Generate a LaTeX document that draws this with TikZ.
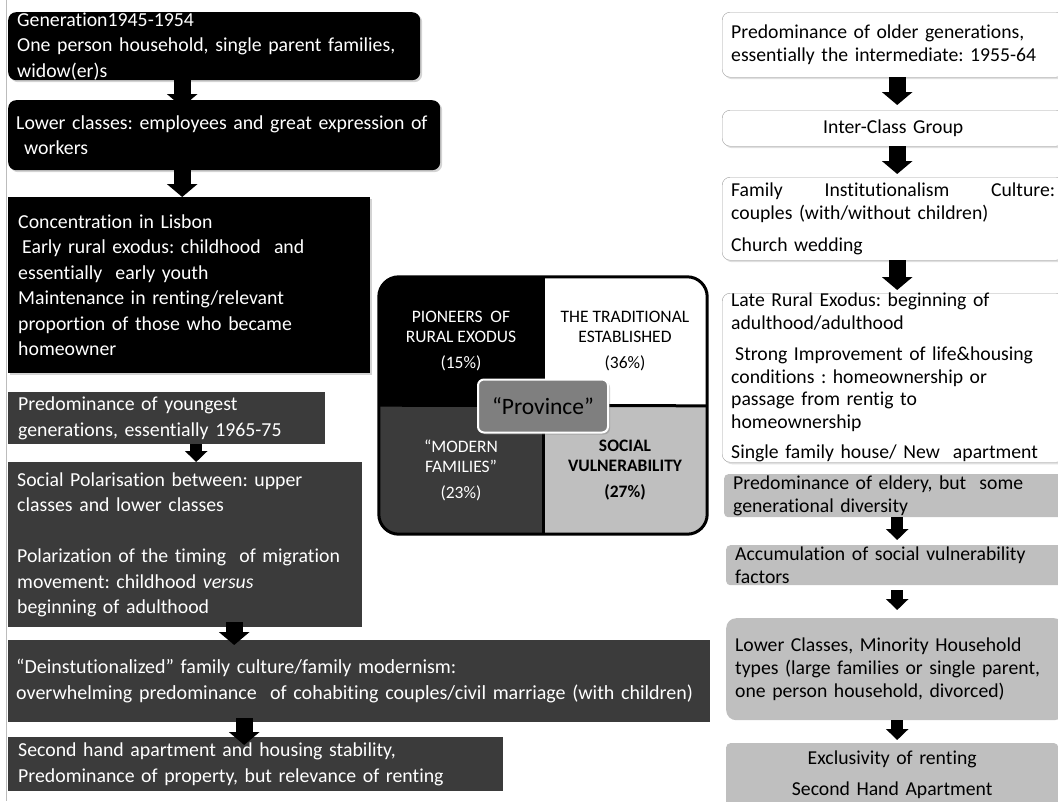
\documentclass[tikz,border=0pt]{standalone}
\usepackage{fontspec}
\setmainfont{Carlito}[Ligatures=NoCommon]
\usepackage{xcolor}
\usetikzlibrary{arrows.meta,shadows}

\definecolor{darkgrey}{HTML}{3B3B3B}
\definecolor{lightgrey}{HTML}{BFBFBF}
\definecolor{midgrey}{HTML}{7F7F7F}
\definecolor{edgegrey}{HTML}{A0A0A0}

\begin{document}
\frenchspacing
\begin{tikzpicture}[x=1pt, y=-1pt,
  leftbox/.style={anchor=north west, inner sep=0pt, align=left, text=white,
    font=\fontsize{19.8}{25.5}\selectfont},
  blackbox/.style={leftbox, fill=black,
    drop shadow={opacity=0.35, shadow xshift=2pt, shadow yshift=-2pt}},
  darkbox/.style={leftbox, fill=darkgrey},
  rightbox/.style={anchor=north west, inner sep=0pt, align=left, text=black,
    minimum width=342pt, text width=324pt, font=\fontsize{19.7}{23}\selectfont},
  whitebox/.style={rightbox, draw=edgegrey, fill=white, rounded corners=8pt,
    drop shadow={opacity=0.25, shadow xshift=2pt, shadow yshift=-2pt}},
  greybox/.style={rightbox, fill=lightgrey, rounded corners=4pt},
  quad/.style={minimum width=164pt, minimum height=128pt, inner sep=0pt,
    align=center, font=\fontsize{17.5}{20}\selectfont},
  flow/.style={draw=black, line width=17pt, -{Triangle[width=30pt,length=13pt]}},
  smallflow/.style={draw=black, line width=12pt, -{Triangle[width=22pt,length=11pt]}}
]
\useasboundingbox (0,0) rectangle (1058,801);
\clip (0,0) rectangle (1058,801);

% frame line on the left
\draw[edgegrey!70, line width=1.2pt] (6.5,0) -- (6.5,801);

% Left column: pioneers / modern families
\node[blackbox, rounded corners=8pt, minimum width=412pt, text width=394pt,
  minimum height=68pt] (gen) at (8,12)
  {Generation1945-1954\\One person household, single parent families,\\widow(er)s};
\node[blackbox, rounded corners=8pt, minimum width=432pt, text width=416pt,
  minimum height=70pt] (lower) at (8,100)
  {Lower classes: employees and great expression of\\\hspace*{8pt}workers};
\node[blackbox, minimum width=362pt, text width=342pt, minimum height=176pt] (lisbon) at (8,197)
  {Concentration in Lisbon\\\hspace*{4pt}Early rural exodus: childhood\ \ and\\essentially\ \ early youth\\
   Maintenance in renting/relevant\\proportion of those who became\\homeowner};

\node[darkbox, minimum width=317pt, text width=297pt, minimum height=52pt] (young) at (8,392)
  {Predominance of youngest\\generations, essentially 1965-75};
\node[darkbox, minimum width=354pt, text width=336pt, minimum height=165pt] (polar) at (8,462)
  {Social Polarisation between: upper\\classes and lower classes\\[25.5pt]
   Polarization of the timing\ \ of migration\\movement: childhood \emph{versus}\\beginning of adulthood};
\node[darkbox, minimum width=702pt, text width=686pt, minimum height=82pt,
  font=\fontsize{20}{26}\selectfont] (deinst) at (8,640)
  {“Deinstutionalized” family culture/family modernism:\\
   overwhelming predominance\ \ of cohabiting couples/civil marriage (with children)};
\node[darkbox, minimum width=495pt, text width=475pt, minimum height=54pt] (second) at (8,737)
  {Second hand apartment and housing stability,\\Predominance of property, but relevance of renting};

% Right column: traditional / social vulnerability
\node[whitebox, minimum height=65pt] (older) at (722,12)
  {Predominance of older generations,\\essentially the intermediate: 1955-64};
\node[whitebox, minimum height=36pt, align=center] (inter) at (722,110) {Inter-Class Group};
\node[whitebox, minimum height=83pt] (famil) at (722,177)
  {Family\hfill Institutionalism\hfill Culture:\\couples (with/without children)\\[9pt]Church wedding};
\node[whitebox, minimum height=169pt, font=\fontsize{19.7}{22.5}\selectfont] (late) at (722,293)
  {Late Rural Exodus: beginning of\\adulthood/adulthood\\[9pt]
   \hspace*{4pt}Strong Improvement of life\&housing\\conditions : homeownership or\\
   passage from rentig to\\homeownership\\[8pt]Single family house/ New\ \ apartment};

\node[greybox, minimum width=340pt, text width=322pt, minimum height=43pt] (eldery) at (724,474)
  {Predominance of eldery, but\ \ some\\generational diversity};
\node[greybox, minimum width=338pt, text width=320pt, minimum height=40pt] (accum) at (726,545)
  {Accumulation of social vulnerability\\factors};
\node[greybox, rounded corners=10pt, minimum width=338pt, text width=320pt,
  minimum height=102pt] (lowcl) at (726,618)
  {Lower Classes, Minority Household\\types (large families or single parent,\\one person household, divorced)};
\node[greybox, minimum width=332pt, text width=314pt, minimum height=64pt, align=center] (excl) at (726,743)
  {Exclusivity of renting\\[8pt]Second Hand Apartment};

% Typology grid
\begin{scope}
  \clip[rounded corners=20pt] (379,277) rectangle (707,535);
  \node[quad, fill=black, text=white] (pion) at (461,341) {PIONEERS\ \ OF\\RURAL EXODUS\\[6pt](15\%)};
  \node[quad, fill=white] (trad) at (625,341) {THE TRADITIONAL\\ESTABLISHED\\[6pt](36\%)};
  \node[quad, fill=darkgrey, text=white] (modern) at (461,470) {“MODERN\\FAMILIES”\\[6pt](23\%)};
  \node[quad, fill=lightgrey, font=\fontsize{17.5}{20}\selectfont\bfseries] (vuln) at (625,470)
    {SOCIAL\\VULNERABILITY\\[6pt](27\%)};
\end{scope}
\draw[line width=3pt, rounded corners=20pt] (pion.north west) rectangle (vuln.south east);
\draw[line width=3pt] (pion.north east) -- (modern.south east);
\draw[line width=3pt] (pion.south west) -- (vuln.north east);

% Center label
\node[
  rounded corners=6pt,
  fill=midgrey,
  draw=white,
  line width=2pt,
  minimum width=130pt,
  minimum height=53pt,
  font=\fontsize{23.5}{26}\selectfont,
  drop shadow={opacity=0.4, shadow xshift=2pt, shadow yshift=-2pt}
] (prov) at (543,406) {“Province”};

% arrows left
\draw[flow] ([xshift=-32pt]gen.south) -- ([xshift=-42pt,yshift=-7pt]lower.north);
\draw[flow] ([xshift=-42pt]lower.south) -- ([xshift=-7pt]lisbon.north);
\draw[smallflow] ([xshift=29.5pt]young.south) -- ([xshift=11pt]polar.north);
\draw[flow] ([xshift=49pt,yshift=5pt]polar.south) -- ([xshift=-125pt,yshift=-5pt]deinst.north);
\draw[flow] ([xshift=-115pt,yshift=4pt]deinst.south) -- ([xshift=-11.5pt,yshift=-8pt]second.north);

% arrows right
\draw[flow] ([xshift=4pt]older.south) -- ([xshift=4pt,yshift=5pt]inter.north);
\draw[flow] ([xshift=4pt]inter.south) -- ([xshift=4pt,yshift=3pt]famil.north);
\draw[flow] ([xshift=4pt]famil.south) -- ([xshift=4pt,yshift=3pt]late.north);
\draw[smallflow] ([xshift=3pt]eldery.south) -- ([xshift=2pt,yshift=5pt]accum.north);
\draw[smallflow] ([xshift=2pt,yshift=-5pt]accum.south) -- ([xshift=2pt,yshift=8pt]lowcl.north);
\draw[smallflow] ([xshift=2pt]lowcl.south) -- ([xshift=5pt,yshift=3pt]excl.north);
\end{tikzpicture}
\end{document}
